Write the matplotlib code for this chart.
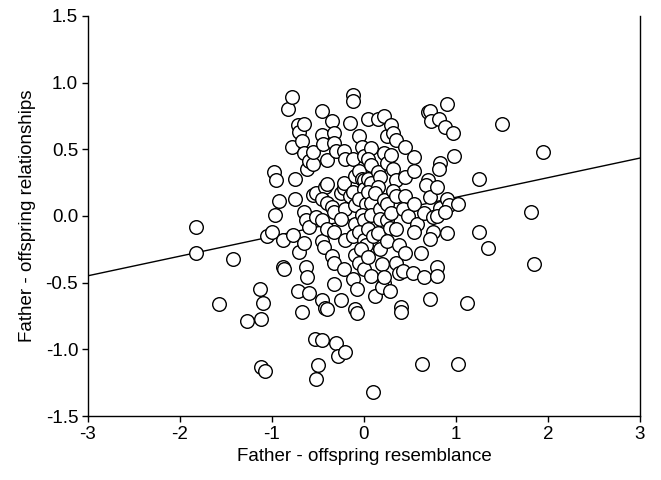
import numpy as np
import matplotlib
matplotlib.use('Agg')
import matplotlib.pyplot as plt

# father - offspring resemblance (x) vs relationships (y)
resemblance = [
    -1.82, -1.82, -1.42, -1.57, -1.27, -1.13, -1.10, -1.12, -1.12, -1.07,
    -1.05, -1.00, -0.98, -0.95, -0.97, -0.92, -0.88, -0.88, -0.87,
    -0.82, -0.78, -0.78, -0.75, -0.75, -0.77,
    -0.72, -0.70, -0.67, -0.65, -0.70, -0.72,
    -0.65, -0.62, -0.60, -0.65, -0.63, -0.60, -0.65, -0.63, -0.62, -0.60, -0.67,
    -0.55, -0.52, -0.55, -0.55, -0.52, -0.53, -0.50, -0.52,
    -0.45, -0.45, -0.44, -0.40, -0.42, -0.40, -0.45, -0.40, -0.45, -0.45, -0.43,
    -0.40, -0.45, -0.42, -0.40, -0.45,
    -0.35, -0.33, -0.33, -0.30, -0.35, -0.32, -0.33, -0.35, -0.33, -0.32, -0.30, -0.28,
    -0.22, -0.20, -0.25, -0.22, -0.22, -0.20, -0.25, -0.20, -0.22, -0.21, -0.25,
    -0.12, -0.12, -0.15, -0.12, -0.10, -0.15, -0.12, -0.10, -0.10, -0.12, -0.10,
    -0.12, -0.08, -0.10, -0.08,
    -0.05, -0.02, 0.00, -0.05, -0.02, 0.00, 0.00, -0.05, 0.02, -0.02, 0.00,
    -0.05, 0.00, 0.02, -0.03, -0.05, 0.00,
    0.05, 0.08, 0.05, 0.08, 0.05, 0.08, 0.05, 0.08, 0.08, 0.05, 0.10, 0.05,
    0.08, 0.12, 0.10,
    0.15, 0.15, 0.18, 0.15, 0.12, 0.18, 0.18, 0.15, 0.18, 0.20, 0.22, 0.20, 0.22,
    0.22, 0.25, 0.22, 0.25, 0.22, 0.25, 0.25, 0.28, 0.25, 0.28,
    0.30, 0.32, 0.35, 0.30, 0.32, 0.35, 0.32, 0.35, 0.30, 0.35, 0.38, 0.35,
    0.38, 0.40, 0.40,
    0.45, 0.45, 0.45, 0.42, 0.48, 0.45, 0.42,
    0.55, 0.55, 0.55, 0.58, 0.55, 0.53,
    0.65, 0.62, 0.63, 0.65,
    0.70, 0.72, 0.73, 0.70, 0.68, 0.72, 0.75, 0.75, 0.72, 0.72,
    0.82, 0.83, 0.82, 0.80, 0.83, 0.80, 0.80, 0.80,
    0.90, 0.88, 0.90, 0.92, 0.88, 0.90,
    0.97, 0.98, 1.02, 1.02, 1.12,
    1.25, 1.25, 1.35, 1.50, 1.82, 1.85, 1.95,
]
relationships = [
    -0.08, -0.28, -0.32, -0.66, -0.79, -0.55, -0.65, -0.77, -1.13, -1.16,
    -0.15, -0.12, 0.33, 0.27, 0.01, 0.11, -0.18, -0.38, -0.40,
    0.80, 0.89, 0.52, 0.28, 0.13, -0.14,
    0.68, 0.63, 0.56, 0.47, -0.27, -0.56,
    0.69, 0.35, 0.41, 0.03, -0.03, -0.08, -0.20, -0.38, -0.46, -0.58, -0.72,
    0.16, 0.17, 0.39, 0.48, -0.01, -0.92, -1.12, -1.22,
    0.79, 0.61, 0.54, 0.42, 0.22, 0.24, 0.13, 0.10, -0.03, -0.19, -0.23,
    -0.10, -0.63, -0.69, -0.70, -0.93,
    0.71, 0.62, 0.55, 0.49, 0.07, 0.03, -0.12, -0.30, -0.35, -0.51, -0.95, -1.05,
    0.49, 0.43, 0.17, 0.21, 0.25, 0.05, -0.02, -0.18, -0.40, -1.02, -0.63,
    0.91, 0.86, 0.70, 0.43, 0.30, 0.15, 0.18, 0.08, -0.06, -0.15, -0.29,
    -0.47, -0.55, -0.70, -0.73,
    0.60, 0.52, 0.45, 0.34, 0.28, 0.27, 0.20, 0.13, 0.09, 0.01, -0.03,
    -0.12, -0.18, -0.22, -0.25, -0.35, -0.40,
    0.73, 0.51, 0.43, 0.38, 0.28, 0.25, 0.18, 0.10, 0.01, -0.10, -0.15, -0.31,
    -0.45, -0.60, -1.32,
    0.73, 0.33, 0.29, 0.22, 0.17, 0.05, -0.02, -0.13, -0.25, -0.36, -0.50, -0.53, -0.46,
    0.75, 0.60, 0.47, 0.40, 0.12, 0.09, -0.03, -0.09, -0.19, -0.56,
    0.68, 0.62, 0.57, 0.46, 0.35, 0.27, 0.19, 0.15, 0.02, -0.10, -0.22, -0.35,
    -0.43, -0.68, -0.72,
    0.52, 0.29, 0.15, 0.05, 0.00, -0.28, -0.41,
    0.44, 0.34, 0.09, -0.06, -0.12, -0.43,
    0.02, -0.28, -1.11, -0.46,
    0.78, 0.79, 0.71, 0.27, 0.23, 0.14, -0.01, -0.12, -0.17, -0.62,
    0.73, 0.40, 0.35, 0.22, 0.06, 0.00, -0.38, -0.45,
    0.84, 0.67, 0.13, 0.08, 0.03, -0.13,
    0.62, 0.45, 0.09, -1.11, -0.65,
    0.28, -0.12, -0.24, 0.69, 0.03, -0.36, 0.48,
]

# regression line
line_intercept = -0.007
line_slope = 0.147

xticks = [-3, -2, -1, 0, 1, 2, 3]
yticks = [-1.5, -1.0, -0.5, 0.0, 0.5, 1.0, 1.5]

plt.rcParams['font.family'] = ['Liberation Sans', 'DejaVu Sans']

fig = plt.figure(figsize=(6.61, 4.80), dpi=100)
ax = fig.add_axes([0.133, 0.133, 0.835, 0.834])

xl = np.array([-3, 3])
ax.plot(xl, line_intercept + line_slope * xl, color='black', lw=1.0, zorder=1)
ax.plot(resemblance, relationships, 'o', ms=9.8, mfc='white', mec='black',
        mew=1.0, ls='none', zorder=2)

ax.set_xlim(-3, 3)
ax.set_ylim(-1.5, 1.5)
ax.set_xticks(xticks)
ax.set_xticklabels([str(t) for t in xticks])
ax.set_yticks(yticks)
ax.set_yticklabels(['%.1f' % t for t in yticks])
ax.spines['top'].set_visible(False)
for s in ['left', 'bottom', 'right']:
    ax.spines[s].set_linewidth(1.0)
ax.tick_params(axis='both', direction='out', length=4, width=1.0,
               labelsize=13.5, pad=3)
ax.set_xlabel('Father - offspring resemblance', fontsize=13.5, labelpad=4)
ax.set_ylabel('Father - offspring relationships', fontsize=13.5, labelpad=7)

fig.savefig('out.png', dpi=100)
